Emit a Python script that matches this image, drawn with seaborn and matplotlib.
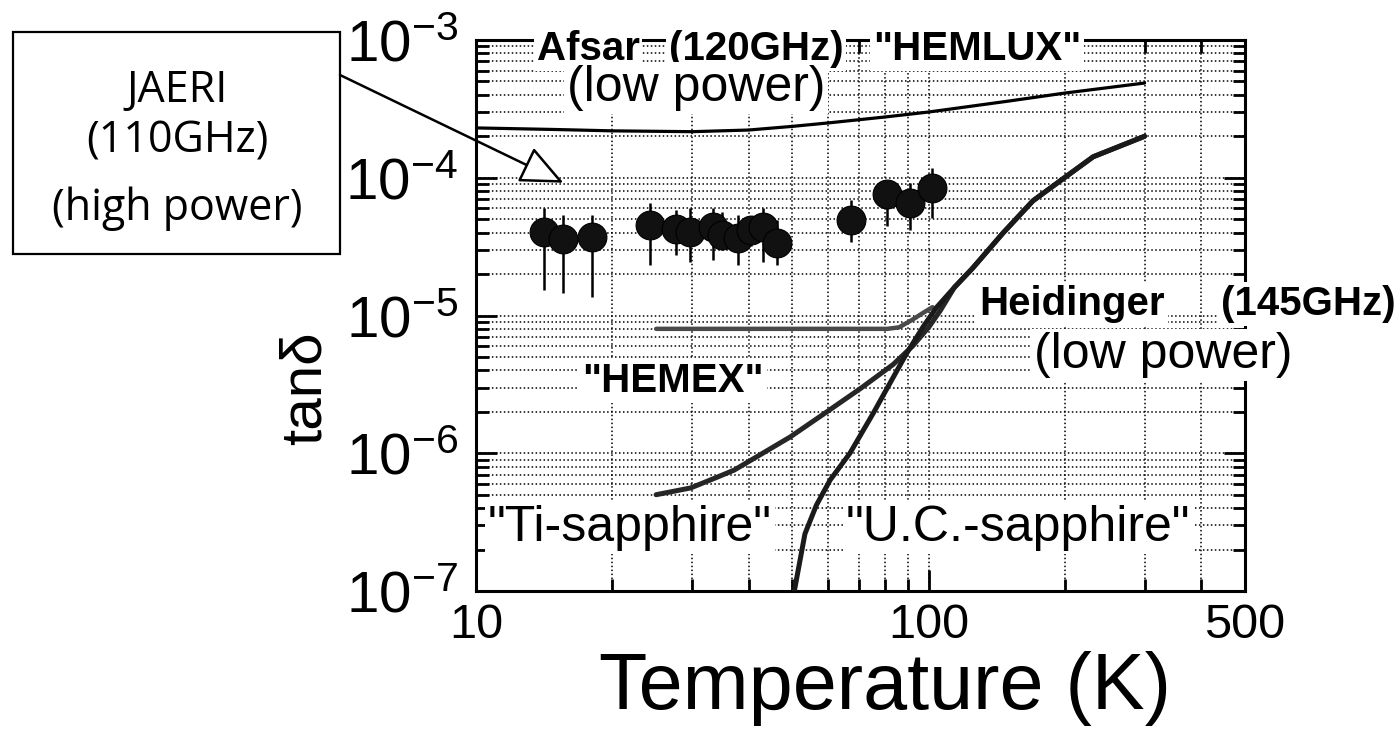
import matplotlib
matplotlib.use('Agg')
import numpy as np
import pandas as pd
import matplotlib.pyplot as plt
from matplotlib.patches import Rectangle
from matplotlib.ticker import FixedLocator, NullFormatter
import seaborn as sns

# JAERI (110 GHz, high power) measured points with error bar bounds
jaeri_T = [14.1, 15.6, 18.0, 24.2, 27.7, 29.7, 33.4, 35.0, 37.9, 40.5, 43.1, 46.2,
           67.4, 80.9, 91.0, 101.7]
jaeri_tan = [4.04e-5, 3.59e-5, 3.71e-5, 4.54e-5, 4.25e-5, 4.04e-5, 4.39e-5, 3.84e-5,
             3.65e-5, 4.18e-5, 4.39e-5, 3.36e-5, 4.93e-5, 7.62e-5, 6.56e-5, 8.43e-5]
jaeri_hi = [6.03e-5, 5.37e-5, 5.37e-5, 6.56e-5, 5.83e-5, 6.03e-5, 6.03e-5, 5.6e-5,
            5.4e-5, 5.1e-5, 6.03e-5, 4.93e-5, 6.89e-5, 9.31e-5, 9.16e-5, 1.18e-4]
jaeri_lo = [1.53e-5, 1.46e-5, 1.36e-5, 2.33e-5, 2.75e-5, 2.45e-5, 2.53e-5, 3.0e-5,
            2.33e-5, 3.2e-5, 2.45e-5, 2.33e-5, 3.42e-5, 4.47e-5, 4.18e-5, 5.10e-5]

# Afsar 120 GHz "HEMLUX"
hemlux_T = [10, 15, 20, 30, 40, 50, 60, 80, 100, 150, 200, 300]
hemlux_tan = [2.30e-4, 2.24e-4, 2.19e-4, 2.16e-4, 2.22e-4, 2.36e-4, 2.5e-4, 2.76e-4,
              3.0e-4, 3.6e-4, 4.12e-4, 4.87e-4]

# Heidinger 145 GHz "HEMEX"
hemex_T = [25, 40, 60, 81, 86, 92, 97, 102]
hemex_tan = [8.0e-6, 8.0e-6, 8.0e-6, 8.0e-6, 8.2e-6, 9.3e-6, 1.04e-5, 1.15e-5]

# common high temperature part of both sapphire curves
tail_T = [114, 125, 146, 170, 202, 231, 300]
tail_tan = [1.6e-5, 2.2e-5, 3.97e-5, 6.8e-5, 1.03e-4, 1.42e-4, 2.0e-4]

ti_T = [25, 29.8, 34.1, 37.2, 49.4, 59.6, 70.7, 83.4, 92.2, 100, 106] + tail_T
ti_tan = [5.0e-7, 5.6e-7, 6.7e-7, 7.55e-7, 1.31e-6, 2.0e-6, 2.95e-6, 4.4e-6, 6.0e-6,
          8.2e-6, 1.08e-5] + tail_tan

uc_T = [50.5, 53.3, 56.5, 60.6, 67.0, 75.5, 82.2, 89.5, 97.2, 104] + tail_T
uc_tan = [1.0e-7, 2.6e-7, 4.2e-7, 6.4e-7, 1.0e-6, 1.96e-6, 3.24e-6, 5.34e-6, 8.26e-6,
          1.14e-5] + tail_tan

ytick_vals = [1e-7, 1e-6, 1e-5, 1e-4, 1e-3]
ytick_text = [r'$\mathregular{10^{-7}}$', r'$\mathregular{10^{-6}}$', r'$\mathregular{10^{-5}}$',
              r'$\mathregular{10^{-4}}$', r'$\mathregular{10^{-3}}$']
ytick_minor = [m * 10.0 ** e for e in range(-7, -3) for m in range(2, 10)]
xtick_vals = [10, 100, 500]
xtick_minor = [20, 30, 40, 50, 60, 70, 80, 90, 200, 300, 400]

sns.set_style('ticks')
plt.rcParams['font.family'] = ['Liberation Sans', 'DejaVu Sans']
plt.rcParams['mathtext.fontset'] = 'custom'
plt.rcParams['mathtext.rm'] = 'Liberation Sans'
plt.rcParams['text.color'] = 'black'
plt.rcParams['xtick.color'] = 'black'
plt.rcParams['ytick.color'] = 'black'
plt.rcParams['xtick.labelcolor'] = 'black'
plt.rcParams['ytick.labelcolor'] = 'black'

W, H = 1400, 731
fig = plt.figure(figsize=(W / 100, H / 100), dpi=100)


def fx(px):
    return px / W


def fy(py):
    return 1 - py / H


ax = fig.add_axes([fx(476), fy(591), fx(1245) - fx(476), fy(40) - fy(591)])
ax.set_xscale('log')
ax.set_yscale('log')

sns.lineplot(x=hemlux_T, y=hemlux_tan, ax=ax, color='black', lw=2.3,
             sort=False, estimator=None, zorder=3)
sns.lineplot(x=hemex_T, y=hemex_tan, ax=ax, color='#4a4a4a', lw=3.2,
             sort=False, estimator=None, zorder=3)
sns.lineplot(x=ti_T, y=ti_tan, ax=ax, color='#262626', lw=3.6,
             sort=False, estimator=None, zorder=3)
sns.lineplot(x=uc_T, y=uc_tan, ax=ax, color='#1a1a1a', lw=3.6,
             sort=False, estimator=None, zorder=3)

ax.vlines(jaeri_T, jaeri_lo, jaeri_hi, color='black', lw=1.8, zorder=4)
sns.scatterplot(x=jaeri_T, y=jaeri_tan, ax=ax, s=430, color='#111111',
                edgecolor='black', linewidth=0.8, zorder=5)

ax.set_xlim(10, 500)
ax.set_ylim(1e-7, 1e-3)

ax.set_xticks(xtick_vals)
ax.set_xticklabels([str(v) for v in xtick_vals])
ax.xaxis.set_minor_locator(FixedLocator(xtick_minor))
ax.xaxis.set_minor_formatter(NullFormatter())
ax.set_yticks(ytick_vals)
ax.set_yticklabels(ytick_text)
ax.yaxis.set_minor_locator(FixedLocator(ytick_minor))
ax.yaxis.set_minor_formatter(NullFormatter())

ax.grid(which='both', color='black', linestyle=(0, (1, 1.6)), linewidth=1.1)
ax.tick_params(which='both', direction='in', top=True, right=True, width=2, color='black')
ax.tick_params(which='major', length=15)
ax.tick_params(which='minor', length=9)
ax.tick_params(axis='x', labelsize=35, pad=9)
ax.tick_params(axis='y', labelsize=42, pad=13)
for sp in ax.spines.values():
    sp.set_linewidth(2.2)
    sp.set_color('black')
ax.set_xlabel('')
ax.set_ylabel('')

fig.text(fx(885), fy(689), 'Temperature (K)', fontsize=57, ha='center', va='center')
fig.text(fx(306), fy(388), 'tanδ', fontsize=42, rotation=90, ha='center', va='center')

# JAERI label box and arrow
fig.add_artist(Rectangle((fx(13), fy(254)), fx(340) - fx(13), fy(32) - fy(254),
                         transform=fig.transFigure, fill=False, ec='black', lw=1.6))
box_font = dict(fontsize=31, family=['Open Sans', 'Liberation Sans'], ha='center', va='baseline')
fig.text(fx(177), fy(102), 'JAERI', **box_font)
fig.text(fx(177), fy(152), '(110GHz)', **box_font)
fig.text(fx(177), fy(220), '(high power)', **box_font)

ax.annotate('', xy=(15.6, 9.2e-5), xycoords='data',
            xytext=(fx(340), fy(75)), textcoords='figure fraction',
            arrowprops=dict(arrowstyle='-|>,head_length=0.9,head_width=0.4',
                            mutation_scale=30, fc='white', ec='black', lw=1.8,
                            shrinkA=0, shrinkB=0),
            annotation_clip=False, zorder=6)

bold_font = dict(fontsize=29, weight='bold', ha='center', va='baseline',
                 bbox=dict(fc='white', ec='none', pad=2))
reg_font = dict(fontsize=36, ha='center', va='baseline',
                bbox=dict(fc='white', ec='none', pad=2))

fig.text(fx(588), fy(60), 'Afsar', **bold_font)
fig.text(fx(756), fy(60), '(120GHz)', **bold_font)
fig.text(fx(977), fy(60), '"HEMLUX"', **bold_font)
fig.text(fx(696), fy(101), '(low power)', **reg_font)
fig.text(fx(1072), fy(315), 'Heidinger', **bold_font)
fig.text(fx(1308), fy(315), '(145GHz)', **bold_font)
fig.text(fx(1163), fy(368), '(low power)', **reg_font)
fig.text(fx(673), fy(392), '"HEMEX"', **bold_font)
fig.text(fx(630), fy(541), '"Ti-sapphire"', **reg_font)
fig.text(fx(1018), fy(541), '"U.C.-sapphire"', **reg_font)

fig.savefig('out.png', dpi=100)
